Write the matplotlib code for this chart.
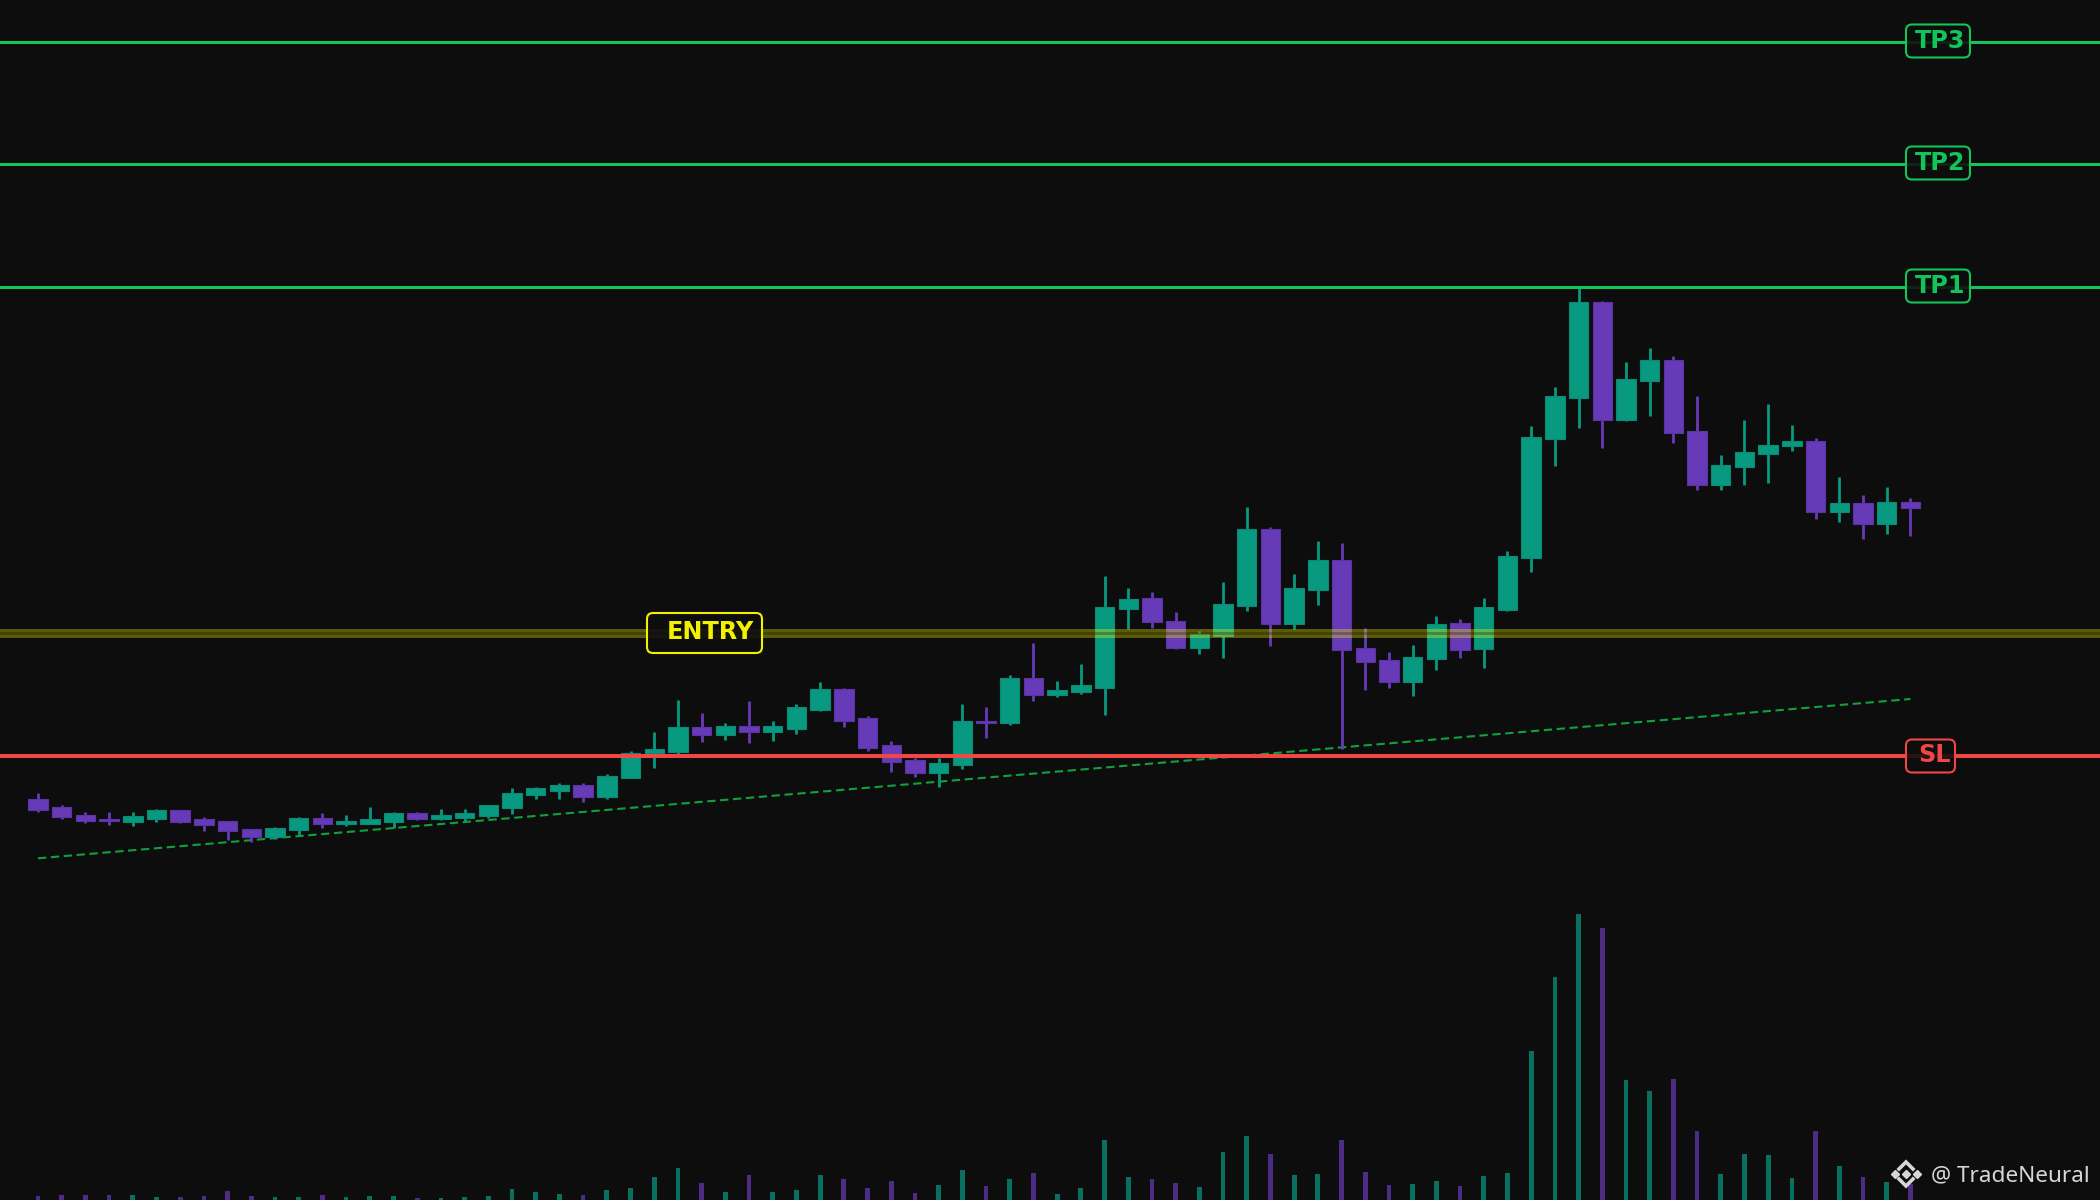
import numpy as np
import matplotlib.pyplot as plt
from matplotlib.patches import FancyBboxPatch

BG = '#0d0d0d'
UP = '#089981'
DOWN = '#673ab7'
UP_EDGE = '#0b8a74'
DOWN_EDGE = '#5c33a6'
TP_COLOR = '#12c45a'
SL_COLOR = '#f04646'
ENTRY_COLOR = '#f2f200'
TREND_COLOR = '#12a03c'

# candle data (price units)
opens = [40.10, 39.30, 38.47, 38.10, 37.83, 38.13, 38.97, 38.10, 37.87, 37.07,
         36.33, 36.97, 38.17, 37.63, 37.63, 37.83, 38.70, 38.10, 38.20, 38.43,
         39.23, 40.53, 40.93, 41.50, 40.33, 42.17, 44.67, 44.83, 47.27, 46.47,
         47.40, 46.83, 47.13, 49.03, 51.10, 48.20, 45.50, 44.00, 42.67, 43.47,
         47.87, 47.67, 52.20, 50.53, 50.77, 51.23, 59.07, 60.17, 57.87, 55.17,
         56.37, 59.37, 67.07, 57.57, 60.97, 63.97, 55.17, 53.97, 51.77, 54.07,
         57.67, 55.07, 59.03, 64.17, 76.07, 80.17, 89.77, 77.97, 81.87, 83.97,
         76.87, 71.47, 73.27, 74.57, 75.37, 75.87, 68.77, 69.67, 67.57, 69.77]
highs = [40.73, 39.50, 38.80, 38.80, 38.80, 39.10, 39.00, 38.30, 37.90, 37.10,
         37.30, 38.30, 38.70, 38.50, 39.30, 38.80, 38.80, 39.10, 39.10, 39.50,
         41.20, 41.30, 41.70, 41.70, 42.60, 44.87, 46.80, 50.00, 48.70, 47.70,
         49.90, 47.90, 49.60, 51.80, 51.20, 48.40, 45.90, 44.20, 44.20, 49.60,
         49.30, 52.50, 55.70, 51.90, 53.60, 62.40, 61.20, 60.80, 58.80, 56.87,
         61.80, 69.30, 67.30, 62.60, 65.90, 65.70, 57.20, 54.77, 55.50, 58.40,
         58.10, 60.20, 64.90, 77.40, 81.30, 91.40, 89.87, 83.80, 85.20, 84.40,
         80.40, 74.50, 78.00, 79.60, 77.50, 76.17, 72.30, 70.50, 71.30, 70.20]
lows = [38.83, 38.10, 37.70, 37.50, 37.40, 37.80, 37.70, 36.90, 36.00, 35.83,
        36.13, 36.40, 37.20, 37.40, 37.63, 37.20, 38.00, 38.00, 37.90, 38.20,
        38.60, 40.10, 40.10, 39.80, 40.10, 42.17, 43.23, 44.60, 45.80, 46.00,
        45.70, 45.90, 46.63, 48.93, 47.33, 44.93, 42.83, 42.33, 41.33, 43.13,
        46.23, 47.53, 49.93, 50.33, 50.63, 48.53, 57.13, 57.23, 55.07, 54.63,
        54.23, 58.93, 55.43, 57.13, 59.53, 45.13, 51.03, 51.23, 50.43, 53.03,
        54.23, 53.23, 58.93, 62.83, 73.40, 77.23, 75.23, 77.93, 78.43, 75.73,
        71.03, 71.03, 71.53, 71.73, 74.93, 68.13, 67.83, 66.13, 66.63, 66.43]
closes = [39.03, 38.27, 37.87, 37.90, 38.40, 39.00, 37.83, 37.53, 36.87, 36.33,
          37.20, 38.17, 37.63, 37.90, 38.07, 38.70, 38.10, 38.50, 38.70, 39.47,
          40.70, 41.17, 41.50, 40.33, 42.40, 44.67, 45.07, 47.27, 46.47, 47.40,
          46.83, 47.40, 49.30, 51.10, 47.93, 45.23, 43.77, 42.67, 43.70, 47.87,
          47.67, 52.20, 50.53, 50.97, 51.47, 59.27, 60.07, 57.77, 55.17, 56.57,
          59.57, 67.07, 57.57, 61.17, 63.97, 54.97, 53.77, 51.77, 54.27, 57.57,
          54.97, 59.27, 64.37, 76.27, 80.37, 89.77, 77.97, 82.07, 83.97, 76.67,
          71.47, 73.47, 74.77, 75.47, 75.87, 68.77, 69.67, 67.57, 69.77, 69.17]
volumes = [4, 5, 5, 5, 5, 3, 3, 4, 9, 4,
           3, 3, 5, 3, 4, 4, 2, 2, 3, 4,
           11, 8, 6, 5, 10, 12, 23, 32, 17, 8,
           25, 8, 10, 25, 21, 12, 19, 7, 15, 30,
           14, 21, 27, 6, 12, 60, 23, 21, 17, 13,
           48, 64, 46, 25, 26, 60, 28, 15, 16, 19,
           14, 24, 27, 149, 223, 286, 272, 120, 109, 121,
           69, 26, 46, 45, 22, 69, 34, 23, 18, 16]

# trade levels
tp3 = 115.8
tp2 = 103.6
tp1 = 91.3
entry = 56.7
sl = 44.4
trend_start, trend_end = 34.17, 50.10

n = len(opens)
idx = np.arange(n)
o, h, l, c = map(np.array, (opens, highs, lows, closes))
up = c >= o

fig = plt.figure(figsize=(21, 12), dpi=100)
fig.patch.set_facecolor(BG)

xlim = (-1.603, 87.0)

# volume pane (same area, own scale)
vax = fig.add_axes([0, 0, 1, 1])
vax.set_facecolor(BG)
vax.bar(idx, volumes, width=0.2, color=np.where(up, UP, DOWN), alpha=0.7,
        linewidth=0)
vax.set_xlim(*xlim)
vax.set_ylim(0, 1200)
vax.axis('off')

# price pane
ax = fig.add_axes([0, 0, 1, 1])
ax.patch.set_visible(False)
ax.set_xlim(*xlim)
ax.set_ylim(0, 120)
ax.axis('off')

ax.vlines(idx, l, h, colors=np.where(up, UP, DOWN), linewidth=2.0, zorder=3)
body_low = np.minimum(o, c)
body_h = np.maximum(np.abs(c - o), 0.15)
ax.bar(idx, body_h, bottom=body_low, width=0.82,
       color=np.where(up, UP, DOWN), edgecolor=np.where(up, UP_EDGE, DOWN_EDGE),
       linewidth=0.8, zorder=4)

ax.plot([0, n - 1], [trend_start, trend_end], color=TREND_COLOR, lw=1.5,
        ls=(0, (4, 2.2)), zorder=2)

for lvl in (tp1, tp2, tp3):
    ax.axhline(lvl, color=TP_COLOR, lw=2.2, zorder=5)
ax.axhline(sl, color=SL_COLOR, lw=2.9, zorder=5)
# entry zone: soft yellow band with darker core
ax.axhline(entry, color='#ffff00', lw=6.5, alpha=0.32, zorder=5)
ax.axhline(entry, color=BG, lw=2.0, alpha=0.3, zorder=5)

# overlay in pixel units for tags and watermark
ov = fig.add_axes([0, 0, 1, 1])
ov.patch.set_visible(False)
ov.set_xlim(0, 2100)
ov.set_ylim(0, 1200)
ov.axis('off')


def level_px(lvl):
    disp = ax.transData.transform((0, lvl))
    return ov.transData.inverted().transform(disp)[1]


def draw_tag(text, lvl, color, left, width, height, text_x, off=0.0):
    y = level_px(lvl)
    box = FancyBboxPatch((left, y - height / 2 + off), width, height,
                         boxstyle='round,pad=0,rounding_size=6',
                         facecolor=BG, alpha=0.88, edgecolor='none', zorder=6)
    ov.add_patch(box)
    edge = FancyBboxPatch((left, y - height / 2 + off), width, height,
                          boxstyle='round,pad=0,rounding_size=6',
                          facecolor='none', edgecolor=color, lw=1.5, zorder=7)
    ov.add_patch(edge)
    ov.text(text_x, y - 6, text, color=color, fontsize=17.2, fontweight='bold',
            ha='center', va='baseline', zorder=8)


draw_tag('TP3', tp3, TP_COLOR, 1906, 64, 33, 1940, off=1)
draw_tag('TP2', tp2, TP_COLOR, 1906, 64, 33, 1940, off=1)
draw_tag('TP1', tp1, TP_COLOR, 1906, 64, 33, 1940, off=1)
draw_tag('SL', sl, SL_COLOR, 1906, 49, 33, 1934)
draw_tag('ENTRY', entry, ENTRY_COLOR, 647, 115, 40, 710)

# watermark
wm = '#d6d6d6'
cx, cy = 1906, 26
ov.plot([cx - 11, cx, cx + 11], [cy, cy, cy], ls='none', marker='D',
        markersize=4.2, color=wm, zorder=9)
ov.plot([cx - 7, cx, cx + 7], [cy + 5, cy + 12, cy + 5], color=wm, lw=2.6,
        solid_joinstyle='miter', zorder=9)
ov.plot([cx - 7, cx, cx + 7], [cy - 5, cy - 12, cy - 5], color=wm, lw=2.6,
        solid_joinstyle='miter', zorder=9)
ov.text(2090, 18.5, '@ TradeNeural', color=wm, fontsize=16.2,
        family=['Noto Sans', 'DejaVu Sans'], ha='right', va='baseline', zorder=9)

fig.savefig('out.png', dpi=100, facecolor=BG)
